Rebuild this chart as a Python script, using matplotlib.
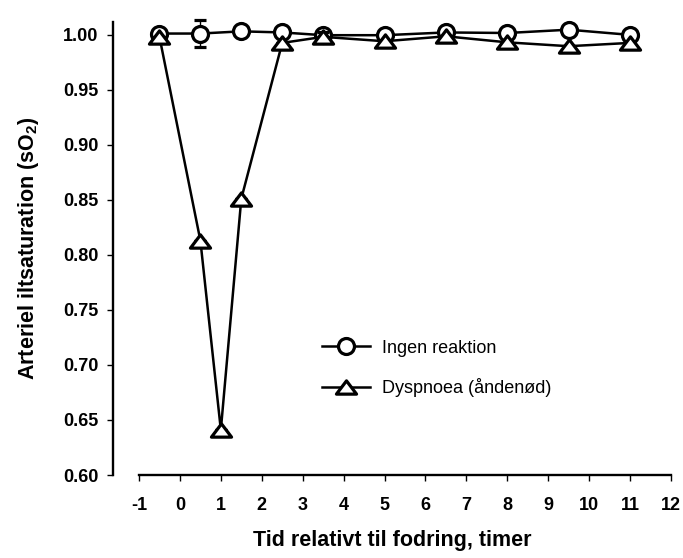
import numpy as np
import matplotlib
matplotlib.use("Agg")
import matplotlib.pyplot as plt
from matplotlib.path import Path

plt.rcParams['font.family'] = ['Liberation Sans', 'DejaVu Sans']
plt.rcParams['mathtext.fontset'] = 'custom'
plt.rcParams['mathtext.bf'] = 'Liberation Sans:bold'
plt.rcParams['mathtext.rm'] = 'Liberation Sans'
plt.rcParams['axes.unicode_minus'] = False

# Målepunkter (timer relativt til fodring)
tid_ingen = [-0.5, 0.5, 1.5, 2.5, 3.5, 5, 6.5, 8, 9.5, 11]
so2_ingen = [1.001, 1.001, 1.003, 1.002, 0.9995, 0.9995, 1.002, 1.0015, 1.0045, 0.9998]
sd_ingen = [0, 0.0125, 0, 0, 0, 0, 0, 0, 0, 0]

tid_dysp = [-0.5, 0.5, 1, 1.5, 2.5, 3.5, 5, 6.5, 8, 9.5, 11]
so2_dysp = [0.998, 0.813, 0.641, 0.851, 0.9925, 0.998, 0.994, 0.9985, 0.993, 0.9895, 0.9925]
sd_dysp = [0, 0, 0, 0, 0, 0.004, 0, 0, 0, 0, 0]

x_ticks = list(range(-1, 13))
y_ticks = [0.60, 0.65, 0.70, 0.75, 0.80, 0.85, 0.90, 0.95, 1.00]

# flad trekant som markør
trekant = Path([(-1, -0.66), (1, -0.66), (0, 0.66), (-1, -0.66)],
               [Path.MOVETO, Path.LINETO, Path.LINETO, Path.CLOSEPOLY])

fig = plt.figure(figsize=(6.83, 5.58), dpi=100)
ax = fig.add_axes([0.1654, 0.1487, 0.8170, 0.8119])

l_ingen = ax.errorbar(tid_ingen, so2_ingen, yerr=sd_ingen, color='black', lw=1.8,
                      marker='o', markersize=11.5, markerfacecolor='white',
                      markeredgecolor='black', markeredgewidth=2.3,
                      ecolor='black', elinewidth=1.0, capsize=4.5, capthick=1.0,
                      zorder=3, clip_on=False)
l_dysp = ax.errorbar(tid_dysp, so2_dysp, yerr=sd_dysp, color='black', lw=1.8,
                     marker=trekant, markersize=14.5, markerfacecolor='white',
                     markeredgecolor='black', markeredgewidth=2.3,
                     ecolor='black', elinewidth=1.0, capsize=4.5, capthick=1.0,
                     zorder=4, clip_on=False)

ax.set_xlim(-1.636, 12)
ax.set_ylim(0.60, 1.0115)
ax.set_xticks(x_ticks)
ax.set_yticks(y_ticks)
ax.set_yticklabels([f"{v:.2f}" for v in y_ticks])

for side in ['top', 'right']:
    ax.spines[side].set_visible(False)
ax.spines['left'].set_linewidth(1.7)
ax.spines['bottom'].set_linewidth(1.7)
ax.spines['bottom'].set_bounds(-1, 12)

ax.tick_params(axis='both', direction='out', length=4.5, width=1.0,
               labelsize=13)
ax.tick_params(axis='y', pad=6)
ax.tick_params(axis='x', pad=11)
for lbl in ax.get_xticklabels() + ax.get_yticklabels():
    lbl.set_fontweight('bold')

ax.set_xlabel('Tid relativt til fodring, timer', fontsize=15.5,
              fontweight='bold', labelpad=12)
ax.set_ylabel(r'Arteriel iltsaturation (sO$_\mathbf{2}$)', fontsize=15.5,
              fontweight='bold', labelpad=16)

# kun linje + markør i signaturforklaringen
fig.legend([l_ingen[0], l_dysp[0]], ['Ingen reaktion', 'Dyspnoea (åndenød)'],
           loc='center left', bbox_to_anchor=(0.4714, 0.3396),
           bbox_transform=fig.transFigure, frameon=False, fontsize=13,
           borderpad=0, borderaxespad=0, handlelength=2.67,
           handletextpad=0.65, labelspacing=1.2, numpoints=1)

fig.savefig('out.png', dpi=100)
